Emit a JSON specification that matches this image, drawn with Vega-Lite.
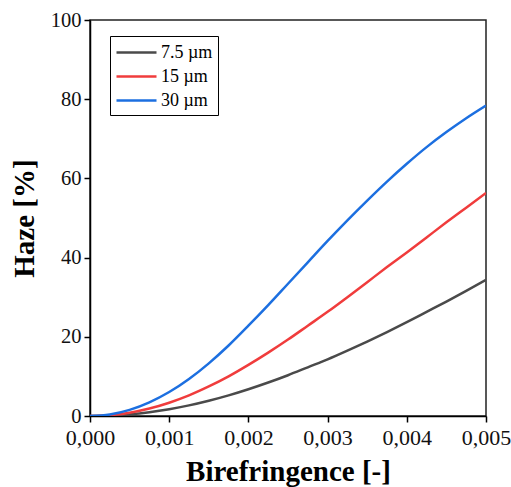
{
  "$schema": "https://vega.github.io/schema/vega-lite/v6.json",
  "autosize": "none",
  "width": 396,
  "height": 396,
  "padding": {"left": 90, "top": 20, "right": 25, "bottom": 71},
  "background": "white",
  "config": {
    "font": "Liberation Serif",
    "view": {"stroke": "#222", "strokeWidth": 1.5}
  },
  "data": {"values": [
    {"s":"7.5 µm","x":0,"h":0},{"s":"7.5 µm","x":0.00025,"h":0.11},{"s":"7.5 µm","x":0.0005,"h":0.43},{"s":"7.5 µm","x":0.00075,"h":0.97},{"s":"7.5 µm","x":0.001,"h":1.72},{"s":"7.5 µm","x":0.00125,"h":2.68},{"s":"7.5 µm","x":0.0015,"h":3.85},{"s":"7.5 µm","x":0.00175,"h":5.2},{"s":"7.5 µm","x":0.002,"h":6.75},{"s":"7.5 µm","x":0.00225,"h":8.45},{"s":"7.5 µm","x":0.0025,"h":10.3},{"s":"7.5 µm","x":0.00275,"h":12.3},{"s":"7.5 µm","x":0.003,"h":14.3},{"s":"7.5 µm","x":0.00325,"h":16.5},{"s":"7.5 µm","x":0.0035,"h":18.8},{"s":"7.5 µm","x":0.00375,"h":21.2},{"s":"7.5 µm","x":0.004,"h":23.7},{"s":"7.5 µm","x":0.00425,"h":26.3},{"s":"7.5 µm","x":0.0045,"h":28.9},{"s":"7.5 µm","x":0.00475,"h":31.6},{"s":"7.5 µm","x":0.005,"h":34.4},
    {"s":"15 µm","x":0,"h":0},{"s":"15 µm","x":0.00025,"h":0.21},{"s":"15 µm","x":0.0005,"h":0.83},{"s":"15 µm","x":0.00075,"h":1.88},{"s":"15 µm","x":0.001,"h":3.35},{"s":"15 µm","x":0.00125,"h":5.2},{"s":"15 µm","x":0.0015,"h":7.45},{"s":"15 µm","x":0.00175,"h":10.0},{"s":"15 µm","x":0.002,"h":12.9},{"s":"15 µm","x":0.00225,"h":16.0},{"s":"15 µm","x":0.0025,"h":19.3},{"s":"15 µm","x":0.00275,"h":22.8},{"s":"15 µm","x":0.003,"h":26.3},{"s":"15 µm","x":0.00325,"h":30.0},{"s":"15 µm","x":0.0035,"h":33.8},{"s":"15 µm","x":0.00375,"h":37.6},{"s":"15 µm","x":0.004,"h":41.3},{"s":"15 µm","x":0.00425,"h":45.1},{"s":"15 µm","x":0.0045,"h":48.9},{"s":"15 µm","x":0.00475,"h":52.6},{"s":"15 µm","x":0.005,"h":56.3},
    {"s":"30 µm","x":0,"h":0},{"s":"30 µm","x":0.00025,"h":0.4},{"s":"30 µm","x":0.0005,"h":1.55},{"s":"30 µm","x":0.00075,"h":3.45},{"s":"30 µm","x":0.001,"h":6.05},{"s":"30 µm","x":0.00125,"h":9.35},{"s":"30 µm","x":0.0015,"h":13.3},{"s":"30 µm","x":0.00175,"h":17.8},{"s":"30 µm","x":0.002,"h":22.8},{"s":"30 µm","x":0.00225,"h":28.0},{"s":"30 µm","x":0.0025,"h":33.4},{"s":"30 µm","x":0.00275,"h":38.8},{"s":"30 µm","x":0.003,"h":44.2},{"s":"30 µm","x":0.00325,"h":49.4},{"s":"30 µm","x":0.0035,"h":54.4},{"s":"30 µm","x":0.00375,"h":59.2},{"s":"30 µm","x":0.004,"h":63.7},{"s":"30 µm","x":0.00425,"h":67.9},{"s":"30 µm","x":0.0045,"h":71.7},{"s":"30 µm","x":0.00475,"h":75.2},{"s":"30 µm","x":0.005,"h":78.4}
  ]},
  "mark": {"type": "line", "strokeWidth": 2.5, "interpolate": "monotone", "clip": true},
  "encoding": {
    "x": {
      "field": "x", "type": "quantitative",
      "scale": {"domain": [0, 0.005], "nice": false, "zero": false},
      "axis": {
        "values": [0, 0.001, 0.002, 0.003, 0.004, 0.005],
        "labelExpr": "replace(format(datum.value, '.3f'), '.', ',')",
        "grid": false, "domainColor": "black", "domainWidth": 1.5,
        "tickColor": "black", "tickSize": 6, "tickWidth": 1.5,
        "labelFontSize": 22, "labelColor": "#111", "labelPadding": 5,
        "labelFlush": false, "labelOverlap": false,
        "title": "Birefringence [-]", "titleFontSize": 29, "titleFontWeight": "bold",
        "titleColor": "black", "titlePadding": 9
      }
    },
    "y": {
      "field": "h", "type": "quantitative",
      "scale": {"domain": [0, 100], "nice": false},
      "axis": {
        "values": [0, 20, 40, 60, 80, 100],
        "grid": false, "domainColor": "black", "domainWidth": 1.5,
        "tickColor": "black", "tickSize": 6, "tickWidth": 1.5,
        "labelFontSize": 20.5, "labelColor": "#111", "labelPadding": 3,
        "labelFlush": false, "labelOverlap": false,
        "title": "Haze [%]", "titleFontSize": 29, "titleFontWeight": "bold",
        "titleColor": "black", "titlePadding": 11
      }
    },
    "color": {
      "field": "s", "type": "nominal",
      "scale": {"domain": ["7.5 µm", "15 µm", "30 µm"], "range": ["#4a4a4a", "#f03c3c", "#1c6fe0"]},
      "legend": {
        "title": null, "orient": "none", "legendX": 20, "legendY": 16,
        "symbolType": "M-1,0H3", "symbolSize": 400, "symbolStrokeWidth": 2.5,
        "labelFontSize": 18, "labelColor": "black", "labelOffset": 23,
        "rowPadding": 3, "padding": 5, "strokeColor": "black", "fillColor": "white",
        "cornerRadius": 0
      }
    }
  }
}
